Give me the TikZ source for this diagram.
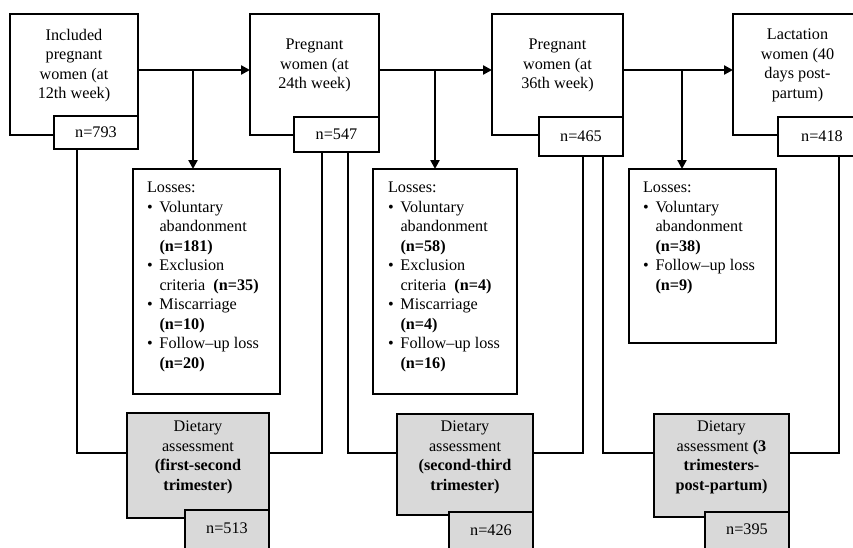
\documentclass[tikz,border=0pt]{standalone}
\usepackage{fontspec}
\setmainfont{Liberation Serif}
\usetikzlibrary{arrows.meta}
\newcommand\bl{\makebox[12.5pt][l]{\textbullet}}
\newcommand\ind{\hspace*{12.5pt}}
\newcommand\rbox[7]{\node[#6, minimum width={(#4-#2)*1pt}, minimum height={(#5-#3)*1pt}] (#1) at ({(#2+#4)/2},{(#3+#5)/2}) {#7};}
\begin{document}
\begin{tikzpicture}[x=1pt,y=-1pt,
  every node/.style={font=\fontsize{16.2}{19.5}\selectfont, inner sep=0pt, outer sep=0pt},
  box/.style={draw, line width=2.6pt, fill=white},
  gbox/.style={draw, line width=2.6pt, fill=black!15},
  ln/.style={line width=2.6pt},
  arr/.style={line width=2.6pt, -{Triangle[length=9pt,width=9pt]}},
  txt/.style={align=center},
  ltxt/.style={align=left, anchor=north west}]
\useasboundingbox (0,0) rectangle (853,547);
\clip (0,0) rectangle (853,547);

% main boxes
\rbox{M1}{10}{14}{138}{135}{box}{}
\rbox{M2}{250}{14}{379}{135}{box}{}
\rbox{M3}{492}{14}{623}{135}{box}{}
\rbox{M4}{733}{14}{862}{135}{box}{}
\node[txt] at ([yshift=9pt]M1.center) {Included\\pregnant\\women (at\\12th week)};
\node[txt] at ([yshift=9pt]M2.center) {Pregnant\\women (at\\24th week)};
\node[txt] at ([yshift=9pt]M3.center) {Pregnant\\women (at\\36th week)};
\node[txt] at ([yshift=9pt]M4.center) {Lactation\\women (40\\days post-\\partum)};

% n boxes
\rbox{n1}{54}{116}{138}{149}{box}{n=793}
\rbox{n2}{294}{117}{379}{152}{box}{n=547}
\rbox{n3}{539}{117}{623}{156}{box}{n=465}
\rbox{n4}{778}{117}{866}{156}{box}{n=418}

% losses boxes
\rbox{L1}{133}{169}{280}{394}{box}{}
\rbox{L2}{373}{169}{517}{394}{box}{}
\rbox{L3}{629}{169}{776}{343}{box}{}
\node[ltxt] at ([xshift=14pt,yshift=-13pt]L1.north west) {Losses:\\
\bl Voluntary\\
\ind abandonment\\
\ind\textbf{(n=181)}\\
\bl Exclusion\\
\ind criteria\ \ \textbf{(n=35)}\\
\bl Miscarriage\\
\ind\textbf{(n=10)}\\
\bl Follow\textendash up loss\\
\ind\textbf{(n=20)}};
\node[ltxt] at ([xshift=15pt,yshift=-13pt]L2.north west) {Losses:\\
\bl Voluntary\\
\ind abandonment\\
\ind\textbf{(n=58)}\\
\bl Exclusion\\
\ind criteria\ \ \textbf{(n=4)}\\
\bl Miscarriage\\
\ind\textbf{(n=4)}\\
\bl Follow\textendash up loss\\
\ind\textbf{(n=16)}};
\node[ltxt] at ([xshift=14pt,yshift=-13pt]L3.north west) {Losses:\\
\bl Voluntary\\
\ind abandonment\\
\ind\textbf{(n=38)}\\
\bl Follow\textendash up loss\\
\ind\textbf{(n=9)}};

% dietary boxes
\rbox{D1}{127}{413}{269}{518}{gbox}{}
\rbox{D2}{397}{414}{533}{515}{gbox}{}
\rbox{D3}{654}{414}{789}{517}{gbox}{}
\node[txt] at ([yshift=8pt]D1.center) {Dietary\\assessment\\\textbf{(first-second}\\\textbf{trimester)}};
\node[txt] at ([yshift=7pt]D2.center) {Dietary\\assessment\\\textbf{(second-third}\\\textbf{trimester)}};
\node[txt] at ([yshift=8pt]D3.center) {Dietary\\assessment \textbf{(3}\\\textbf{trimesters-}\\\textbf{post-partum)}};
\rbox{dn1}{185}{510}{269}{570}{gbox}{}
\rbox{dn2}{449}{512}{533}{570}{gbox}{}
\rbox{dn3}{705}{512}{789}{570}{gbox}{}
\node at ([yshift=-18pt]dn1.north) {n=513};
\node at ([yshift=-18pt]dn2.north) {n=426};
\node at ([yshift=-17pt]dn3.north) {n=395};

% arrows between main boxes
\draw[arr] ([yshift=4.5pt]M1.east) -- ([yshift=4.5pt]M2.west);
\draw[arr] ([yshift=4.5pt]M2.east) -- ([yshift=4.5pt]M3.west);
\draw[arr] ([yshift=4.5pt]M3.east) -- ([yshift=4.5pt]M4.west);
\coordinate (j1) at (193,70);
\coordinate (j2) at (435,70);
\coordinate (j3) at (682,70);
\draw[arr] (j1) -- (j1 |- L1.north);
\draw[arr] (j2) -- (j2 |- L2.north);
\draw[arr] (j3) -- (j3 |- L3.north);

% connectors to dietary boxes
\draw[ln] ([xshift=-19pt]n1.south) |- ([yshift=12.5pt]D1.west);
\draw[ln] ([xshift=-14.5pt]n2.south) |- ([yshift=12.5pt]D1.east);
\draw[ln] ([xshift=11.5pt]n2.south) |- ([yshift=11.5pt]D2.west);
\draw[ln] ([xshift=2pt]n3.south) |- ([yshift=11.5pt]D2.east);
\draw[ln] ([xshift=22pt]n3.south) |- ([yshift=12.5pt]D3.west);
\draw[ln] ([xshift=17pt]n4.south) |- ([yshift=12.5pt]D3.east);
\end{tikzpicture}
\end{document}
